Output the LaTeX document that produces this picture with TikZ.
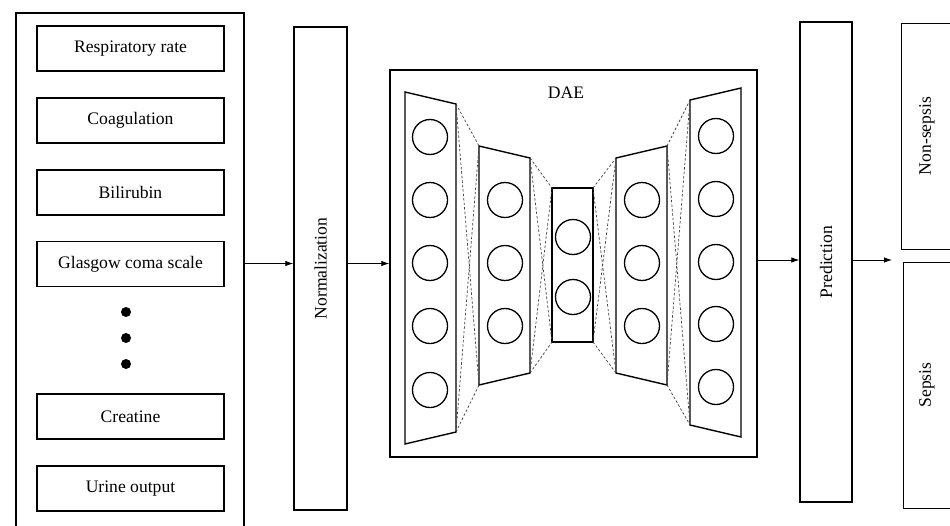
\documentclass[tikz,border=0pt]{standalone}
\usepackage{fontspec}
\setmainfont{Liberation Serif}
\usetikzlibrary{arrows.meta,positioning}

\begin{document}
\begin{tikzpicture}[x=1pt,y=-1pt,
    box/.style={draw,line width=1.4pt,inner sep=0pt},
    item/.style={box,minimum width=187pt,minimum height=45pt,font=\fontsize{17.6}{21}\selectfont},
    txt/.style={font=\fontsize{17.6}{21}\selectfont},
    vtxt/.style={txt,rotate=90},
    neuron/.style={draw,circle,line width=1.3pt,minimum size=35pt,inner sep=0pt},
    layer/.style={line width=1.4pt,line join=miter},
    link/.style={dash pattern=on 2.5pt off 2pt,line width=0.7pt,black!75},
    >={Latex[length=8pt,width=5.5pt]},line width=0.8pt,node distance=25.5pt]
    \useasboundingbox (0,0) rectangle (950,525);
    \clip (0,0) rectangle (950,525);

    % inputs
    \node[box,minimum width=228pt,minimum height=547pt] (inp) at (130,286.5) {};
    \node[item] (resp) at (130.5,48.5) {Respiratory rate};
    \node[item,below=of resp] (coag) {Coagulation};
    \node[item,below=of coag] (bili) {Bilirubin};
    \node[item,below=of bili] (gcs) {Glasgow coma scale};
    \foreach \y/\n in {312/1,338/2,364/3}
      \fill (126,\y) circle (5) coordinate (dot\n);
    \node[item] (creat) at (130.5,416.5) {Creatine};
    \node[item,below=of creat] (urine) {Urine output};

    % normalization
    \node[box,minimum width=53pt,minimum height=483pt] (norm) at (320.5,268.5) {};
    \node[vtxt] (normt) at (norm.center) {Normalization};

    % DAE
    \node[box,minimum width=367pt,minimum height=387pt] (dae) at (573.5,263.5) {};
    \node[txt] (daet) at (566,93) {DAE};

    \coordinate (a1) at (405,92);  \coordinate (b1) at (456,104);
    \coordinate (c1) at (456,432); \coordinate (d1) at (405,444);
    \coordinate (a2) at (479,146); \coordinate (b2) at (530,158);
    \coordinate (c2) at (530,373); \coordinate (d2) at (479,385);
    \coordinate (a3) at (552,188); \coordinate (b3) at (593,188);
    \coordinate (c3) at (593,342); \coordinate (d3) at (552,342);
    \coordinate (a4) at (616,158); \coordinate (b4) at (667,146);
    \coordinate (c4) at (667,385); \coordinate (d4) at (616,373);
    \coordinate (a5) at (690,100); \coordinate (b5) at (741,88);
    \coordinate (c5) at (741,437); \coordinate (d5) at (690,425);
    \foreach \i in {1,...,5}
      \draw[layer] (a\i) -- (b\i) -- (c\i) -- (d\i) -- cycle;
    \foreach \i/\j in {1/2,2/3,3/4,4/5} {
      \draw[link] (b\i) -- (a\j);
      \draw[link] (c\i) -- (d\j);
      \draw[link] (b\i) -- (d\j);
      \draw[link] (c\i) -- (a\j);
    }

    \foreach \y [count=\k] in {137,200,263,326,390}
      \node[neuron] (n1\k) at (430,\y) {};
    \foreach \y [count=\k] in {200,263,326}
      \node[neuron] (n2\k) at (505,\y) {};
    \foreach \y [count=\k] in {237,297}
      \node[neuron] (n3\k) at (573,\y) {};
    \foreach \y [count=\k] in {200,263,326}
      \node[neuron] (n4\k) at (642,\y) {};
    \foreach \y [count=\k] in {136,199,262,324,387}
      \node[neuron] (n5\k) at (716,\y) {};

    % prediction and classes
    \node[box,minimum width=52pt,minimum height=480pt] (pred) at (826,262) {};
    \node[vtxt] (predt) at (pred.center) {Prediction};
    \node[box,minimum width=120pt,minimum height=226pt,anchor=north west] (nons) at (901,23) {};
    \node[vtxt] (nonst) at (927,136) {Non-sepsis};
    \node[box,minimum width=120pt,minimum height=246pt,anchor=north west] (seps) at (903,262) {};
    \node[vtxt] (sepst) at (927,385) {Sepsis};
    \coordinate (out) at (892,260);

    \draw[->] (inp.east |- dae.west) -- (norm.west |- dae.west);
    \draw[->] (norm.east |- dae.west) -- (dae.west);
    \draw[->] (dae.east |- out) -- (pred.west |- out);
    \draw[->] (pred.east |- out) -- (out);
\end{tikzpicture}
\end{document}
